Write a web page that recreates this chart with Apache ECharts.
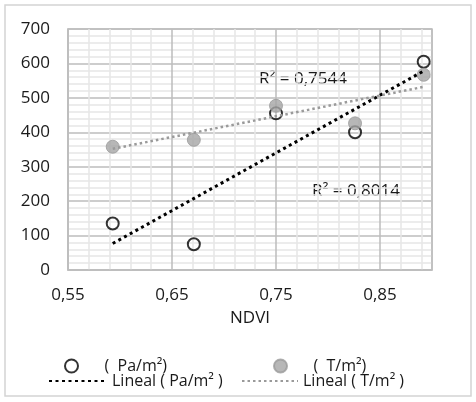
<!DOCTYPE html>
<html>
<head>
<meta charset="utf-8">
<script src="https://cdn.jsdelivr.net/npm/echarts@6/dist/echarts.min.js"></script>
<style>
	html, body { margin: 0; padding: 0; background: #fff; }
	#main { width: 476px; height: 402px; }
</style>
</head>
<body>
<div id="main"></div>
<script>
	// NDVI values
	var ndvi = [0.593, 0.671, 0.75, 0.826, 0.892];
	// Pa/m² (open black circles)
	var paValues = [135, 75, 455, 400, 605];
	// T/m² (grey filled circles)
	var tValues = [358, 378, 477, 426, 567];
	// trend line end points (first and last NDVI)
	var trendX = [0.593, 0.892];
	var paTrend = [77, 578];
	var tTrend = [352, 532];
	var r2Labels = ['R² = 0,7544', 'R² = 0,8014'];
	var seriesNames = ['(  Pa/m²)', '(  T/m²)', 'Lineal ( Pa/m² )', 'Lineal ( T/m² )'];

	function pairs(xs, ys) {
		return xs.map(function (x, i) { return [x, ys[i]]; });
	}

	var font = '"Open Sans", "Noto Sans", sans-serif';
	var txt = '#1a1a1a';
	var myChart = echarts.init(document.getElementById('main'));

	// one legend per item so each sits where it does in the picture
	function legendAt(name, left, top, width, hideSymbol) {
		var lg = {
			data: [name],
			left: left,
			top: top,
			padding: 0,
			itemWidth: width,
			itemHeight: 13,
			itemGap: 0,
			selectedMode: false,
			textStyle: { fontFamily: font, fontSize: 16, color: txt }
		};
		if (hideSymbol) {
			lg.itemStyle = { color: 'rgba(0,0,0,0)', borderWidth: 0 };
		}
		return lg;
	}

	var option = {
		animation: false,
		backgroundColor: '#fff',
		textStyle: { fontFamily: font },
		grid: {
			left: 68, top: 29, right: 44, bottom: 132,
			show: true, borderColor: '#bdbdbd', borderWidth: 1.5
		},
		xAxis: {
			type: 'value',
			min: 0.55, max: 0.9, interval: 0.1,
			name: 'NDVI',
			nameLocation: 'middle',
			nameGap: 40,
			nameTextStyle: { fontFamily: font, fontSize: 17, color: txt },
			axisLine: { show: true, lineStyle: { color: '#bdbdbd', width: 1.5 } },
			axisTick: { show: false },
			axisLabel: {
				margin: 17, fontSize: 17, color: txt, fontFamily: font,
				showMaxLabel: false,
				formatter: function (v) { return v.toFixed(2).replace('.', ','); }
			},
			splitLine: { lineStyle: { color: '#bdbdbd', width: 1.5 } },
			minorTick: { show: false, splitNumber: 5 },
			minorSplitLine: { show: true, lineStyle: { color: '#e6e6e6', width: 1.5 } }
		},
		yAxis: {
			type: 'value',
			min: 0, max: 700, interval: 100,
			axisLine: { show: true, lineStyle: { color: '#bdbdbd', width: 1.5 } },
			axisTick: { show: false },
			axisLabel: { margin: 18, fontSize: 17, color: txt, fontFamily: font },
			splitLine: { lineStyle: { color: '#bdbdbd', width: 1.5 } },
			minorTick: { show: false, splitNumber: 5 },
			minorSplitLine: { show: true, lineStyle: { color: '#e6e6e6', width: 1.5 } }
		},
		legend: [
			legendAt(seriesNames[0], 64, 358, 56, false),
			legendAt(seriesNames[1], 273, 358, 56, false),
			legendAt(seriesNames[2], 48, 373, 58, true),
			legendAt(seriesNames[3], 241, 373, 56, true)
		],
		graphic: [
			{
				type: 'rect',
				shape: { x: 5, y: 5, width: 466, height: 391 },
				style: { fill: 'none', stroke: '#d4d4d4', lineWidth: 1.5 },
				silent: true
			},
			{
				type: 'text', left: 259, top: 71,
				style: { text: r2Labels[0], font: '17px ' + font, fill: txt }
			},
			{
				type: 'text', left: 312, top: 183,
				style: { text: r2Labels[1], font: '17px ' + font, fill: txt }
			}
		],
		series: [
			{
				name: seriesNames[0],
				type: 'scatter',
				symbol: 'circle',
				symbolSize: 12,
				z: 3,
				itemStyle: { color: 'rgba(255,255,255,0)', borderColor: '#000', borderWidth: 2 },
				data: pairs(ndvi, paValues)
			},
			{
				name: seriesNames[1],
				type: 'scatter',
				symbol: 'circle',
				symbolSize: 13,
				z: 4,
				itemStyle: { color: '#a5a5a5', borderColor: '#9a9a9a', borderWidth: 1 },
				data: pairs(ndvi, tValues)
			},
			{
				name: seriesNames[2],
				type: 'line',
				symbol: 'none',
				z: 5,
				lineStyle: { color: '#000', width: 3, type: [3, 3.5] },
				itemStyle: { color: '#000' },
				data: pairs(trendX, paTrend)
			},
			{
				name: seriesNames[3],
				type: 'line',
				symbol: 'none',
				z: 5,
				lineStyle: { color: '#9a9a9a', width: 2.5, type: [2.5, 3] },
				itemStyle: { color: '#9a9a9a' },
				data: pairs(trendX, tTrend)
			}
		]
	};

	myChart.setOption(option);
</script>
</body>
</html>
